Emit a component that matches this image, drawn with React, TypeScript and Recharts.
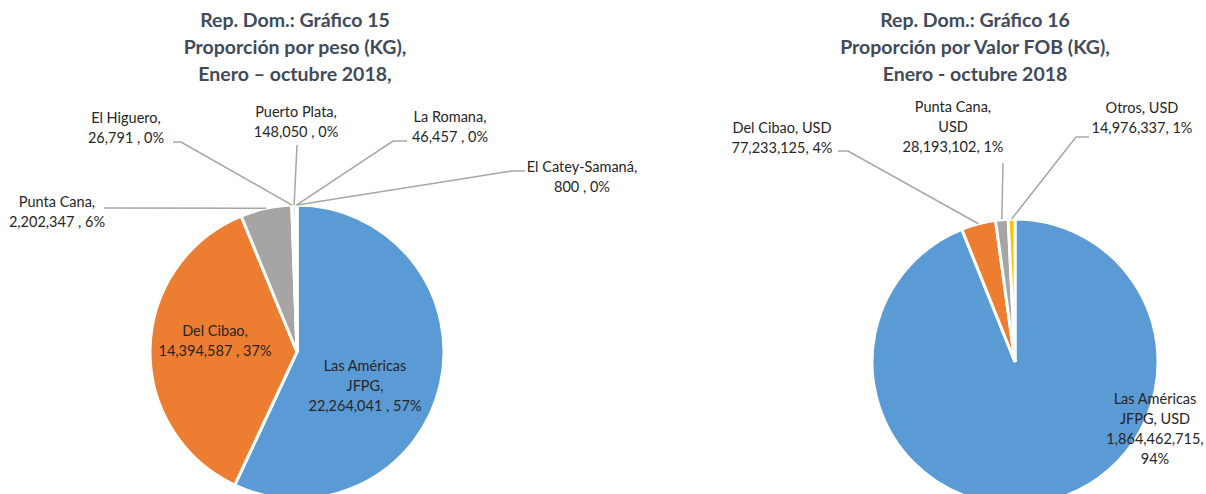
import { PieChart, Pie, Cell } from "recharts";

// Gráfico 15 - peso (KG)
const pesoNames = [
  "Las Américas JFPG",
  "Del Cibao",
  "Punta Cana",
  "El Higuero",
  "Puerto Plata",
  "La Romana",
  "El Catey-Samaná",
];
const pesoValues = [22264041, 14394587, 2202347, 26791, 148050, 46457, 800];

// Gráfico 16 - valor FOB
const fobNames = ["Las Américas JFPG", "Del Cibao", "Punta Cana", "Otros"];
const fobValues = [1864462715, 77233125, 28193102, 14976337];

const titlesLeft = ["Rep. Dom.: Gráfico 15", "Proporción por peso (KG),", "Enero – octubre 2018,"];
const titlesRight = ["Rep. Dom.: Gráfico 16", "Proporción por Valor FOB (KG),", "Enero - octubre 2018"];

const COLORS = ["#5B9BD5", "#ED7D31", "#A5A5A5", "#FFC000", "#4472C4", "#70AD47", "#264478"];
const FONT = "Lato, 'Liberation Sans', sans-serif";
const LINE_H = 20;

type LabelLayout = {
  pts?: number[][]; // leader points relative to pie center
  tx: number;
  ty: number;
  words: number[];
};

const pesoLayout: LabelLayout[] = [
  { tx: 68, ty: 14, words: [2, 1, 3] },
  { tx: -82, ty: -21, words: [2, 3] },
  { pts: [[-193, -144]], tx: -240, ty: -150, words: [2, 3] },
  { pts: [[-116, -210], [-124, -210]], tx: -171, ty: -234, words: [2, 3] },
  { pts: [[0, -207]], tx: -1, ty: -240, words: [2, 3] },
  { pts: [[96, -211], [110, -211]], tx: 153, ty: -235, words: [2, 3] },
  { pts: [[215, -181], [228, -181]], tx: 285, ty: -185, words: [2, 3] },
];

const fobLayout: LabelLayout[] = [
  { tx: 140, ty: 37, words: [2, 2, 1, 1] },
  { pts: [[-167, -211], [-177, -211]], tx: -233, ty: -234, words: [3, 2] },
  { pts: [[-12, -199]], tx: -62, ty: -255, words: [2, 1, 2] },
  { pts: [[61, -225], [74, -225]], tx: 127, ty: -254, words: [2, 2] },
];

const fmt = (v: number) => v.toLocaleString("en-US");
const RADIAN = Math.PI / 180;

const wrap = (text: string, counts: number[]) => {
  const w = text.split(" ");
  const out: string[] = [];
  let i = 0;
  counts.forEach((c) => {
    out.push(w.slice(i, i + c).join(" "));
    i += c;
  });
  return out;
};

const makeLabel =
  (layout: LabelLayout[], textOf: (name: string, value: number, pct: number) => string) =>
  (props: any) => {
    const { cx, cy, midAngle, outerRadius, index, name, value, percent } = props;
    const l = layout[index];
    const lines = wrap(textOf(name, value, Math.round(percent * 100)), l.words);
    const sx = cx + outerRadius * Math.cos(-midAngle * RADIAN);
    const sy = cy + outerRadius * Math.sin(-midAngle * RADIAN);
    let poly = "";
    if (l.pts) {
      const pts = [[sx, sy], ...l.pts.map(([dx, dy]) => [cx + dx, cy + dy])];
      poly = pts.map((p) => p.join(",")).join(" ");
    }
    return (
      <g key={`lbl-${index}`}>
        {poly && <polyline points={poly} fill="none" stroke="#A6A6A6" strokeWidth={1.5} />}
        <text
          x={cx + l.tx}
          y={cy + l.ty}
          textAnchor="middle"
          fontSize={14.5}
          fontFamily={FONT}
          fill="#262626"
        >
          {lines.map((s, i) => (
            <tspan key={i} x={cx + l.tx} y={cy + l.ty + i * LINE_H} dy="0.35em">
              {s}
            </tspan>
          ))}
        </text>
      </g>
    );
  };

const pesoData = pesoNames.map((name, i) => ({ name, value: pesoValues[i] }));
const fobData = fobNames.map((name, i) => ({ name, value: fobValues[i] }));

const Title = ({ lines, cx }: { lines: string[]; cx: number }) => (
  <div
    style={{
      position: "absolute",
      left: cx - 250,
      top: 6,
      width: 500,
      textAlign: "center",
      fontFamily: FONT,
      fontWeight: 700,
      fontSize: 19.5,
      lineHeight: "27px",
      color: "#3F4B5B",
    }}
  >
    {lines.map((s, i) => (
      <div key={i}>{s}</div>
    ))}
  </div>
);

export default function App() {
  return (
    <div
      style={{
        position: "absolute",
        left: 0,
        top: 0,
        width: 1206,
        height: 494,
        background: "#fff",
        overflow: "hidden",
      }}
    >
      <PieChart width={1206} height={494} margin={{ top: 0, right: 0, bottom: 0, left: 0 }}>
        <Pie
          data={pesoData}
          dataKey="value"
          nameKey="name"
          cx={297}
          cy={352}
          outerRadius={147}
          startAngle={90}
          endAngle={-270}
          stroke="#fff"
          strokeWidth={3}
          labelLine={false}
          label={makeLabel(pesoLayout, (n, v, p) => `${n}, ${fmt(v)} , ${p}%`)}
          isAnimationActive={false}
        >
          {pesoData.map((_, i) => (
            <Cell key={i} fill={COLORS[i % COLORS.length]} />
          ))}
        </Pie>
        <Pie
          data={fobData}
          dataKey="value"
          nameKey="name"
          cx={1015}
          cy={362}
          outerRadius={143}
          startAngle={90}
          endAngle={-270}
          stroke="#fff"
          strokeWidth={3}
          labelLine={false}
          label={makeLabel(fobLayout, (n, v, p) => `${n}, USD ${fmt(v)}, ${p}%`)}
          isAnimationActive={false}
        >
          {fobData.map((_, i) => (
            <Cell key={i} fill={COLORS[i % COLORS.length]} />
          ))}
        </Pie>
      </PieChart>
      <Title lines={titlesLeft} cx={295} />
      <Title lines={titlesRight} cx={975} />
    </div>
  );
}
